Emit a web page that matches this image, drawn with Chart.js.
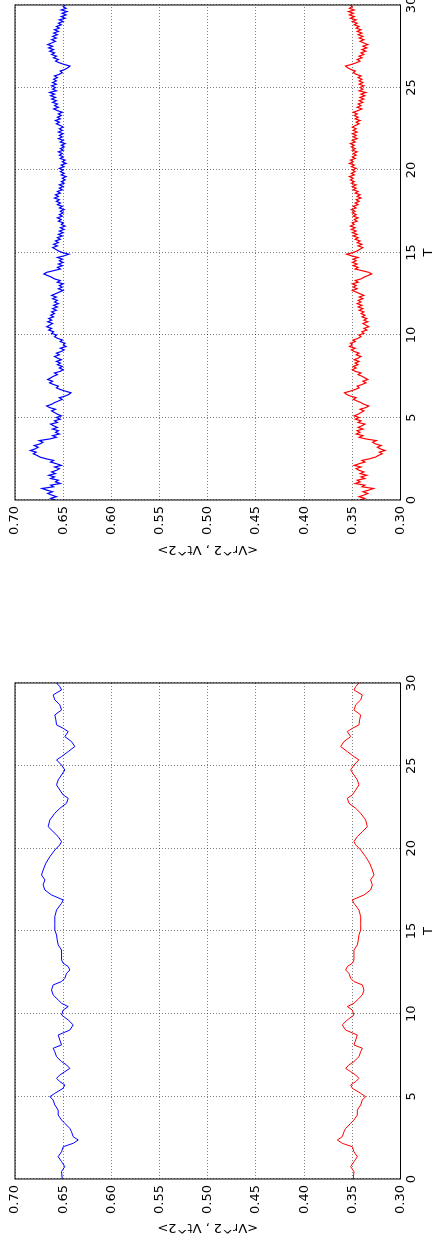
<!DOCTYPE html>
<html><head><meta charset="utf-8">
<script src="https://cdn.jsdelivr.net/npm/chart.js@4.4.1/dist/chart.umd.min.js"></script>
<style>
html,body{margin:0;padding:0;background:#fff;overflow:hidden;width:435px;height:1245px;}
#fig{position:absolute;left:0;top:0;width:1245px;height:435px;transform-origin:0 0;transform:translateY(1245px) rotate(-90deg);background:#fff;overflow:hidden;}
.panel{position:absolute;top:0;height:435px;}
canvas{display:block;}
</style></head><body>
<div id="fig">
 <div class="panel" style="left:0;width:620px"><canvas id="cSmooth" width="620" height="435"></canvas></div>
 <div class="panel" style="left:640px;width:605px"><canvas id="cNoisy" width="605" height="435"></canvas></div>
</div>
<script>
// ---- axis ticks ----
const tTicks = [0, 5, 10, 15, 20, 25, 30];
const vTicks = [0.30, 0.35, 0.40, 0.45, 0.50, 0.55, 0.60, 0.65, 0.70];
const xTitle = 'T';
const yTitle = '<Vr^2 , Vt^2>';

// ---- left subplot (smoothed) ----
const tSmooth = [0,0.45,0.75,1.05,1.35,1.65,1.95,2.16,2.36,2.56,
2.86,3.06,3.37,3.57,3.87,4.17,4.48,4.78,4.98,5.18,
5.49,5.69,5.89,6.09,6.29,6.49,6.69,6.90,7.10,7.40,
7.70,7.91,8.11,8.41,8.71,9.01,9.32,9.62,9.92,10.22,
10.43,10.63,10.83,11.13,11.43,11.74,11.94,12.14,12.44,12.64,
12.85,13.05,13.25,13.55,13.85,14.16,14.46,14.76,15.06,15.47,
15.87,16.27,16.68,16.88,17.18,17.48,17.79,18.09,18.39,18.69,
19.10,19.50,19.90,20.21,20.41,20.71,21.01,21.31,21.72,22.12,
22.42,22.73,23.03,23.23,23.53,23.84,24.14,24.44,24.74,25.04,
25.35,25.55,25.85,26.16,26.46,26.76,27.06,27.26,27.47,27.77,
28.07,28.37,28.68,28.98,29.28,29.58,29.78,30.00];
const vrSmooth = [0.6510,0.6517,0.6483,0.6517,0.6552,0.6517,0.6500,0.6396,0.6344,0.6396,
0.6414,0.6431,0.6483,0.6517,0.6552,0.6552,0.6587,0.6604,0.6638,0.6587,
0.6500,0.6483,0.6535,0.6569,0.6535,0.6483,0.6431,0.6465,0.6517,0.6569,
0.6587,0.6604,0.6517,0.6535,0.6552,0.6431,0.6396,0.6448,0.6517,0.6500,
0.6448,0.6517,0.6552,0.6604,0.6621,0.6604,0.6517,0.6483,0.6465,0.6431,
0.6448,0.6500,0.6517,0.6517,0.6517,0.6552,0.6562,0.6569,0.6587,0.6587,
0.6587,0.6569,0.6517,0.6500,0.6621,0.6690,0.6708,0.6690,0.6725,0.6708,
0.6680,0.6638,0.6587,0.6535,0.6517,0.6552,0.6604,0.6656,0.6638,0.6587,
0.6535,0.6465,0.6448,0.6500,0.6535,0.6569,0.6552,0.6517,0.6483,0.6517,
0.6569,0.6517,0.6448,0.6379,0.6414,0.6483,0.6448,0.6500,0.6569,0.6576,
0.6587,0.6517,0.6535,0.6587,0.6604,0.6517,0.6535,0.6569];
const vtSmooth = [0.3490,0.3483,0.3517,0.3483,0.3448,0.3483,0.3500,0.3604,0.3656,0.3604,
0.3586,0.3569,0.3517,0.3483,0.3448,0.3448,0.3413,0.3396,0.3362,0.3413,
0.3500,0.3517,0.3465,0.3431,0.3465,0.3517,0.3569,0.3535,0.3483,0.3431,
0.3413,0.3396,0.3483,0.3465,0.3448,0.3569,0.3604,0.3552,0.3483,0.3500,
0.3552,0.3483,0.3448,0.3396,0.3379,0.3396,0.3483,0.3517,0.3535,0.3569,
0.3552,0.3500,0.3483,0.3483,0.3483,0.3448,0.3438,0.3431,0.3413,0.3413,
0.3413,0.3431,0.3483,0.3500,0.3379,0.3310,0.3292,0.3310,0.3275,0.3292,
0.3320,0.3362,0.3413,0.3465,0.3483,0.3448,0.3396,0.3344,0.3362,0.3413,
0.3465,0.3535,0.3552,0.3500,0.3465,0.3431,0.3448,0.3483,0.3517,0.3483,
0.3431,0.3483,0.3552,0.3621,0.3586,0.3517,0.3552,0.3500,0.3431,0.3424,
0.3413,0.3483,0.3465,0.3413,0.3396,0.3483,0.3465,0.3431];

// ---- right subplot (raw), sampled every 0.1 in T ----
const tNoisyStart = 0, tNoisyStep = 0.1;
const vrNoisy = [
0.658,0.663,0.657,0.662,0.666,0.661,0.667,0.672,0.660,0.663,
0.653,0.658,0.655,0.663,0.659,0.665,0.658,0.662,0.657,0.654,
0.659,0.652,0.657,0.663,0.660,0.668,0.674,0.677,0.681,0.678,
0.684,0.679,0.676,0.680,0.674,0.671,0.675,0.664,0.657,0.661,
0.654,0.658,0.655,0.661,0.656,0.660,0.663,0.656,0.659,0.653,
0.657,0.652,0.656,0.659,0.662,0.658,0.664,0.667,0.662,0.659,
0.655,0.651,0.654,0.648,0.644,0.642,0.648,0.653,0.657,0.655,
0.660,0.664,0.661,0.666,0.663,0.660,0.656,0.659,0.653,0.650,
0.654,0.651,0.656,0.653,0.657,0.652,0.656,0.659,0.654,0.657,
0.652,0.649,0.653,0.647,0.650,0.648,0.653,0.651,0.656,0.659,
0.657,0.662,0.660,0.665,0.662,0.667,0.664,0.661,0.666,0.662,
0.665,0.660,0.663,0.659,0.662,0.657,0.661,0.656,0.660,0.655,
0.659,0.656,0.661,0.657,0.662,0.658,0.654,0.650,0.655,0.651,
0.654,0.650,0.656,0.653,0.659,0.662,0.666,0.670,0.667,0.660,
0.653,0.656,0.651,0.655,0.650,0.654,0.651,0.656,0.649,0.644,
0.651,0.655,0.658,0.661,0.656,0.660,0.655,0.658,0.653,0.656,
0.651,0.655,0.650,0.654,0.649,0.653,0.648,0.652,0.650,0.655,
0.652,0.656,0.651,0.654,0.650,0.653,0.649,0.654,0.651,0.656,
0.653,0.657,0.654,0.659,0.655,0.658,0.653,0.656,0.651,0.654,
0.650,0.654,0.649,0.652,0.648,0.651,0.647,0.652,0.649,0.653,
0.650,0.654,0.649,0.652,0.647,0.651,0.648,0.653,0.650,0.654,
0.651,0.655,0.650,0.653,0.649,0.652,0.648,0.653,0.650,0.655,
0.651,0.654,0.650,0.655,0.651,0.654,0.650,0.653,0.657,0.654,
0.658,0.653,0.656,0.652,0.655,0.651,0.656,0.660,0.655,0.659,
0.656,0.661,0.657,0.662,0.658,0.663,0.659,0.664,0.657,0.661,
0.658,0.662,0.657,0.661,0.657,0.660,0.656,0.659,0.654,0.651,
0.653,0.648,0.645,0.643,0.649,0.654,0.658,0.655,0.660,0.657,
0.662,0.659,0.664,0.660,0.665,0.661,0.666,0.662,0.658,0.662,
0.657,0.661,0.656,0.660,0.655,0.659,0.654,0.657,0.652,0.655,
0.650,0.654,0.648,0.652,0.647,0.651,0.646,0.652,0.647,0.650,
0.648];
const vtNoisy = [
0.342,0.337,0.343,0.338,0.334,0.339,0.333,0.328,0.340,0.337,
0.347,0.342,0.345,0.337,0.341,0.335,0.342,0.338,0.343,0.346,
0.341,0.348,0.343,0.337,0.340,0.332,0.326,0.323,0.319,0.322,
0.316,0.321,0.324,0.320,0.326,0.329,0.325,0.336,0.343,0.339,
0.346,0.342,0.345,0.339,0.344,0.340,0.337,0.344,0.341,0.347,
0.343,0.348,0.344,0.341,0.338,0.342,0.336,0.333,0.338,0.341,
0.345,0.349,0.346,0.352,0.356,0.358,0.352,0.347,0.343,0.345,
0.340,0.336,0.339,0.334,0.337,0.340,0.344,0.341,0.347,0.350,
0.346,0.349,0.344,0.347,0.343,0.348,0.344,0.341,0.346,0.343,
0.348,0.351,0.347,0.353,0.350,0.352,0.347,0.349,0.344,0.341,
0.343,0.338,0.340,0.335,0.338,0.333,0.336,0.339,0.334,0.338,
0.335,0.340,0.337,0.341,0.338,0.343,0.339,0.344,0.340,0.345,
0.341,0.344,0.339,0.343,0.338,0.342,0.346,0.350,0.345,0.349,
0.346,0.350,0.344,0.347,0.341,0.338,0.334,0.330,0.333,0.340,
0.347,0.344,0.349,0.345,0.350,0.346,0.349,0.344,0.351,0.356,
0.349,0.345,0.342,0.339,0.344,0.340,0.345,0.342,0.347,0.344,
0.349,0.345,0.350,0.346,0.351,0.347,0.352,0.348,0.350,0.345,
0.348,0.344,0.349,0.346,0.350,0.347,0.351,0.346,0.349,0.344,
0.347,0.343,0.346,0.341,0.345,0.342,0.347,0.344,0.349,0.346,
0.350,0.346,0.351,0.348,0.352,0.349,0.353,0.348,0.351,0.347,
0.350,0.346,0.351,0.348,0.353,0.349,0.352,0.347,0.350,0.346,
0.349,0.345,0.350,0.347,0.351,0.348,0.352,0.347,0.350,0.345,
0.349,0.346,0.350,0.345,0.349,0.346,0.350,0.347,0.343,0.346,
0.342,0.347,0.344,0.348,0.345,0.349,0.344,0.340,0.345,0.341,
0.344,0.339,0.343,0.338,0.342,0.337,0.341,0.336,0.343,0.339,
0.342,0.338,0.343,0.339,0.343,0.340,0.344,0.341,0.346,0.349,
0.347,0.352,0.355,0.357,0.351,0.346,0.342,0.345,0.340,0.343,
0.338,0.341,0.336,0.340,0.335,0.339,0.334,0.338,0.342,0.338,
0.343,0.339,0.344,0.340,0.345,0.341,0.346,0.343,0.348,0.345,
0.350,0.346,0.352,0.348,0.353,0.349,0.354,0.348,0.353,0.350,
0.352];
const tNoisy = vrNoisy.map((_, i) => +(tNoisyStart + i * tNoisyStep).toFixed(1));

// ---- rendering ----
const FONT = {family: '"DejaVu Sans", sans-serif', size: 13, lineHeight: 1.0};
const framePlugin = {
  id: 'frame',
  afterDatasetsDraw(chart) {
    const a = chart.chartArea, ctx = chart.ctx;
    ctx.save();
    ctx.strokeStyle = '#000';
    ctx.lineWidth = 1;
    ctx.strokeRect(a.left, a.top, a.right - a.left, a.bottom - a.top);
    ctx.restore();
  }
};

function pts(ts, vs) { return ts.map((t, i) => ({x: t, y: vs[i]})); }

function makeChart(id, ts, vr, vt, yWidth, rightPad, yTitlePad, lw) {
  new Chart(document.getElementById(id), {
    type: 'line',
    data: {datasets: [
      {data: pts(ts, vr), borderColor: '#0000ff', borderWidth: lw, pointRadius: 0, tension: 0, fill: false},
      {data: pts(ts, vt), borderColor: '#ff0000', borderWidth: lw, pointRadius: 0, tension: 0, fill: false}
    ]},
    options: {
      responsive: false, animation: false, devicePixelRatio: 1,
      layout: {padding: {left: 0, right: rightPad, top: 15, bottom: 0}},
      plugins: {legend: {display: false}, tooltip: {enabled: false}},
      scales: {
        x: {
          type: 'linear', min: tTicks[0], max: tTicks[tTicks.length - 1],
          afterBuildTicks: s => { s.ticks = tTicks.map(v => ({value: v})); },
          ticks: {autoSkip: false, maxRotation: 0, padding: 5, color: '#000', font: FONT, callback: v => String(v)},
          grid: {color: 'rgba(0,0,0,0.5)', lineWidth: 1, drawTicks: false},
          border: {display: false, dash: [1, 2]},
          title: {display: true, text: xTitle, color: '#000', font: FONT, padding: {top: 0, bottom: 0}},
          afterFit: s => { s.height = 34.5; s.paddingLeft = 0; s.paddingRight = 0; }
        },
        y: {
          type: 'linear', min: vTicks[0], max: vTicks[vTicks.length - 1],
          afterBuildTicks: s => { s.ticks = vTicks.map(v => ({value: v})); },
          ticks: {autoSkip: false, padding: 6, color: '#000', font: FONT, callback: v => Number(v).toFixed(2)},
          grid: {color: 'rgba(0,0,0,0.5)', lineWidth: 1, drawTicks: false},
          border: {display: false, dash: [1, 2]},
          title: {display: true, text: yTitle, color: '#000', font: FONT, padding: {top: yTitlePad, bottom: 0}},
          afterFit: s => { s.width = yWidth; s.paddingTop = 0; s.paddingBottom = 0; }
        }
      }
    },
    plugins: [framePlugin]
  });
}

makeChart('cSmooth', tSmooth, vrSmooth, vtSmooth, 66, 58, 11.5, 1);
makeChart('cNoisy', tNoisy, vrNoisy, vtNoisy, 105, 5, 49.5, 1.2);
</script>
</body></html>
